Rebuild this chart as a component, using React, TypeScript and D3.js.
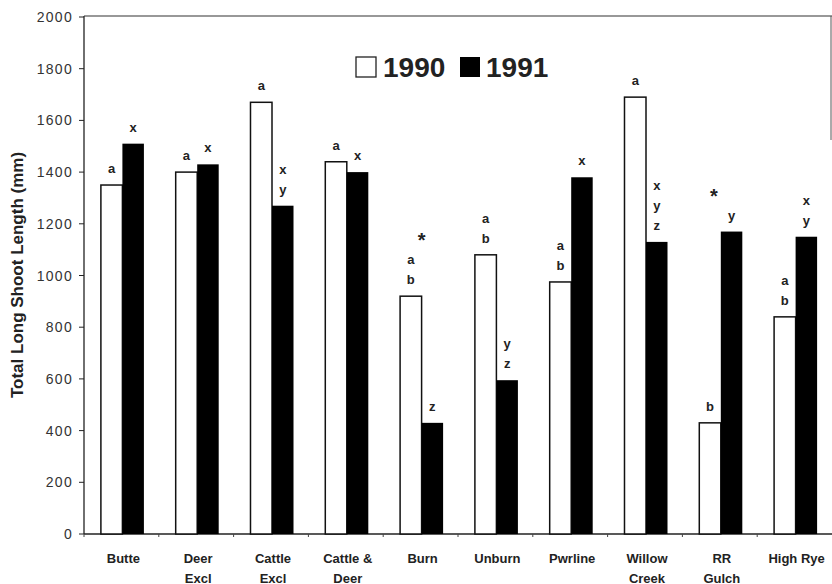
import React from "react";
import * as d3 from "d3";

const categories = ["Butte", "Deer Excl", "Cattle Excl", "Cattle & Deer", "Burn", "Unburn", "Pwrline", "Willow Creek", "RR Gulch", "High Rye"];
const catLines = [["Butte"], ["Deer", "Excl"], ["Cattle", "Excl"], ["Cattle &", "Deer"], ["Burn"], ["Unburn"], ["Pwrline"], ["Willow", "Creek"], ["RR", "Gulch"], ["High Rye"]];
const years = ["1990", "1991"];
const values1990 = [1350, 1400, 1670, 1440, 920, 1080, 975, 1690, 430, 840];
const values1991 = [1510, 1430, 1270, 1400, 430, 595, 1380, 1130, 1170, 1150];
const letters1990 = [["a"], ["a"], ["a"], ["a"], ["a", "b"], ["a", "b"], ["a", "b"], ["a"], ["b"], ["a", "b"]];
const letters1991 = [["x"], ["x"], ["x", "y"], ["x"], ["z"], ["y", "z"], ["x"], ["x", "y", "z"], ["y"], ["x", "y"]];
const starred = ["Burn", "RR Gulch"];
const yTicks = [0, 200, 400, 600, 800, 1000, 1200, 1400, 1600, 1800, 2000];

const W = 832, H = 584;
const L = 84, R = 832, T = 16, B = 534;

export default function App() {
  const y = d3.scaleLinear().domain([0, 2000]).range([B, T + 1]);
  const x = d3.scaleBand<string>().domain(categories).range([L + 1, R + 1]).paddingInner(0.425).paddingOuter(0.2125);
  const xi = d3.scaleBand<string>().domain(years).range([0, x.bandwidth()]);
  const step = x.step();
  const font = "Liberation Sans, Arial, sans-serif";
  const txt = "#222";

  return (
    <svg width={W} height={H} style={{ position: "absolute", left: 0, top: 0, background: "#fff" }} fontFamily={font}>
      <rect x={0} y={0} width={W} height={H} fill="#fff" />
      {/* frame */}
      <line x1={L} x2={R} y1={T} y2={T} stroke="#333" strokeWidth={1.2} />
      <line x1={L} x2={L} y1={T} y2={B} stroke="#222" strokeWidth={1.3} />
      <line x1={831} x2={831} y1={T} y2={140} stroke="#555" strokeWidth={1} />
      <line x1={L} x2={R} y1={B} y2={B} stroke="#222" strokeWidth={1.3} />
      {/* y ticks */}
      {yTicks.map((t) => (
        <g key={t}>
          <line x1={L - 5} x2={L} y1={y(t)} y2={y(t)} stroke="#222" strokeWidth={1} />
          <text x={73} y={y(t) + 5} textAnchor="end" fontSize={14} letterSpacing={1.3} fill="#333">{t}</text>
        </g>
      ))}
      {/* x boundary ticks */}
      {categories.map((c, i) => (
        <line key={"bt" + i} x1={L + i * step} x2={L + i * step} y1={B} y2={B + 3} stroke="#444" strokeWidth={1} />
      ))}
      {/* y title */}
      <text transform={`translate(23,${(T + B) / 2}) rotate(-90)`} textAnchor="middle" fontSize={17} fontWeight="bold" fill={txt}>
        Total Long Shoot Length (mm)
      </text>
      {/* bars */}
      {categories.map((c, i) => {
        const x0 = x(c)!;
        const v0 = values1990[i], v1 = values1991[i];
        const bx0 = x0 + xi("1990")!, bx1 = x0 + xi("1991")!;
        const bw = xi.bandwidth();
        const topLabel = (v: number, n: number) => y(v) - 12 - (n - 1) * 20;
        let starY = 0;
        if (starred.includes(c)) {
          const hi = v0 >= v1 ? topLabel(v0, letters1990[i].length) : topLabel(v1, letters1991[i].length);
          starY = hi - 16;
        }
        const starDx = c === "RR Gulch" ? -7 : 0;
        return (
          <g key={c}>
            <rect x={bx0} y={y(v0)} width={bw} height={B - y(v0)} fill="#fff" stroke="#111" strokeWidth={1.5} />
            <rect x={bx1} y={y(v1)} width={bw} height={B - y(v1)} fill="#000" />
            {letters1990[i].map((l, k) => (
              <text key={"a" + k} x={bx0 + bw / 2} y={y(v0) - 12 - (letters1990[i].length - 1 - k) * 20} textAnchor="middle" fontSize={13} fontWeight="bold" fill={txt}>{l}</text>
            ))}
            {letters1991[i].map((l, k) => (
              <text key={"b" + k} x={bx1 + bw / 2} y={y(v1) - 12 - (letters1991[i].length - 1 - k) * 20} textAnchor="middle" fontSize={13} fontWeight="bold" fill={txt}>{l}</text>
            ))}
            {starred.includes(c) && (
              <text x={x0 + x.bandwidth() / 2 + starDx} y={starY - 1} textAnchor="middle" fontSize={20} fontWeight="bold" fill={txt}>*</text>
            )}
            {catLines[i].map((s, k) => (
              <text key={"c" + k} x={x0 + x.bandwidth() / 2 + 1} y={563 + k * 20} textAnchor="middle" fontSize={13} fontWeight="bold" fill={txt}>{s}</text>
            ))}
          </g>
        );
      })}
      {/* legend */}
      <rect x={356} y={57} width={20} height={20} fill="#fff" stroke="#222" strokeWidth={1.3} />
      <text x={383} y={77} fontSize={28} fontWeight="bold" fill={txt}>1990</text>
      <rect x={460} y={57} width={20} height={20} fill="#000" />
      <text x={486} y={77} fontSize={28} fontWeight="bold" fill={txt}>1991</text>
    </svg>
  );
}
